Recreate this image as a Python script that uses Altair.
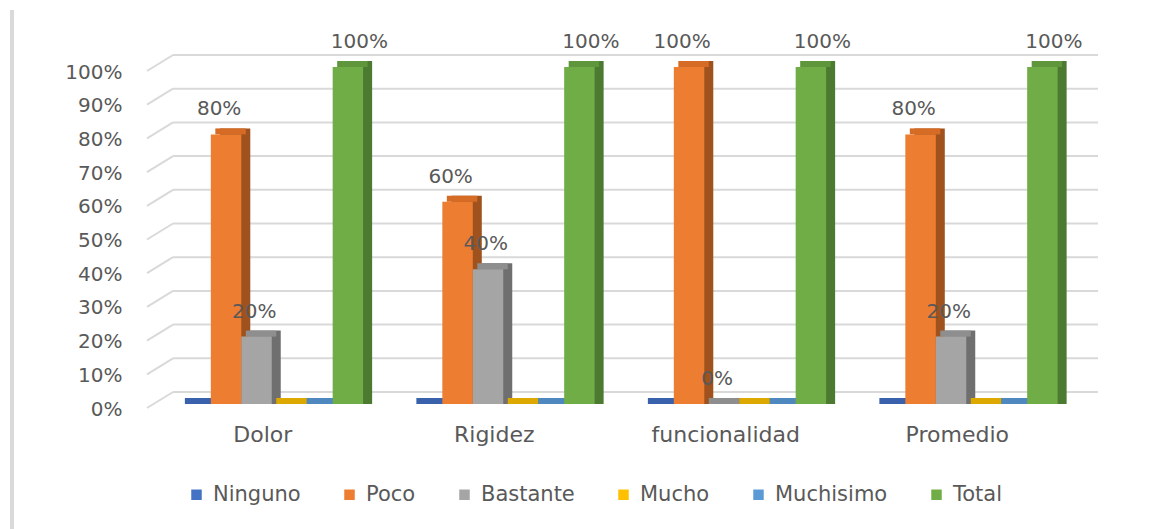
import altair as alt
import pandas as pd

categories = ["Dolor", "Rigidez", "funcionalidad", "Promedio"]
series = ["Ninguno", "Poco", "Bastante", "Mucho", "Muchisimo", "Total"]
ninguno = [0.0, 0.0, 0.0, 0.0]
poco = [0.8, 0.6, 1.0, 0.8]
bastante = [0.2, 0.4, 0.0, 0.2]
mucho = [0.0, 0.0, 0.0, 0.0]
muchisimo = [0.0, 0.0, 0.0, 0.0]
total = [1.0, 1.0, 1.0, 1.0]
labelled = ["Poco", "Bastante", "Total"]
ticks = [0.0, 0.1, 0.2, 0.3, 0.4, 0.5, 0.6, 0.7, 0.8, 0.9, 1.0]

front_colors = ["#4472C4", "#ED7D31", "#A5A5A5", "#FFC000", "#5B9BD5", "#70AD47"]
side_colors = ["#2F5597", "#A0521E", "#6F6F6F", "#C09000", "#41719C", "#4B7A30"]
top_colors = ["#3A62AC", "#D56B24", "#8E8E8E", "#DDA800", "#4E88BE", "#5F963B"]

values = [ninguno, poco, bastante, mucho, muchisimo, total]
rows = []
for s, vals in zip(series, values):
    for c, v in zip(categories, vals):
        rows.append({"category": c, "series": s, "value": v})
df = pd.DataFrame(rows)
tick_df = pd.DataFrame({"tick": ticks})

W, H = 926, 337
BAND = W / len(categories)
FONT = "DejaVu Sans"
TXT = "#595959"
GRID = "#D9D9D9"

yscale = alt.Scale(domain=[0, 1], nice=False)
xscale = alt.Scale(domain=categories, paddingInner=0, paddingOuter=0)
yaxis = alt.Axis(
    title=None, values=ticks, format=".0%", domain=False, ticks=False, grid=False,
    labelOverlap=False, labelFontSize=20, labelFont=FONT, labelColor=TXT,
    labelPadding=34, labelOffset=5,
)


def xoff(shift):
    return alt.XOffset(
        "series:N",
        sort=series,
        scale=alt.Scale(domain=series, range=[shift, BAND + shift], paddingInner=0, paddingOuter=0.8),
    )


def yq():
    return alt.Y("value:Q", scale=yscale, axis=yaxis)


xenc = alt.X(
    "category:N",
    sort=categories,
    scale=xscale,
    axis=alt.Axis(
        title=None, domain=False, ticks=False, grid=False, labelAngle=0, labelFontSize=22,
        labelFont=FONT, labelColor=TXT, labelPadding=20, labelOffset=-9,
    ),
)

grid_back = alt.Chart(tick_df).mark_rule(color=GRID, strokeWidth=2, yOffset=-12).encode(
    x=alt.value(17), x2=alt.value(942),
    y=alt.Y("tick:Q", scale=yscale, axis=yaxis),
)
grid_diag = alt.Chart(tick_df).mark_rule(color=GRID, strokeWidth=2, yOffset=4, y2Offset=-12).encode(
    x=alt.value(-9), x2=alt.value(17),
    y=alt.Y("tick:Q", scale=yscale, axis=yaxis), y2=alt.Y2("tick:Q"),
)

side = alt.Chart(df).mark_bar(yOffset=-6, y2Offset=0).encode(
    x=xenc, xOffset=xoff(9),
    y=yq(),
    y2=alt.datum(0),
    color=alt.Color("series:N", scale=alt.Scale(domain=series, range=side_colors), legend=None),
)
top = alt.Chart(df).mark_bar(yOffset=-6, y2Offset=0).encode(
    x=xenc, xOffset=xoff(4.5),
    y=yq(),
    y2=alt.Y2("value:Q"),
    color=alt.Color("series:N", scale=alt.Scale(domain=series, range=top_colors), legend=None),
)
front = alt.Chart(df).mark_bar().encode(
    x=xenc, xOffset=xoff(0),
    y=yq(),
    color=alt.Color(
        "series:N", sort=series,
        scale=alt.Scale(domain=series, range=front_colors),
        legend=alt.Legend(
            title=None, orient="none", legendX=30, legendY=417, direction="horizontal",
            columns=6, columnPadding=38, symbolType="square", symbolSize=110,
            symbolStrokeWidth=0, labelFontSize=21, labelFont=FONT, labelColor=TXT,
            labelOffset=6,
        ),
    ),
)
labels = alt.Chart(df).transform_filter(
    alt.FieldOneOfPredicate(field="series", oneOf=labelled)
).mark_text(dy=-25, align="center", baseline="middle", fontSize=20, font=FONT, color=TXT).encode(
    x=xenc, xOffset=xoff(0),
    y=yq(),
    text=alt.Text("value:Q", format=".0%"),
)
border = alt.Chart(tick_df).mark_rule(color=GRID, strokeWidth=3).encode(
    x=alt.value(-144), y=alt.value(-57), y2=alt.value(470),
)

chart = alt.layer(grid_back, grid_diag, side, top, front, labels, border).resolve_scale(
    xOffset="independent", color="independent"
).properties(
    width=W, height=H,
    background="white",
    autosize=alt.AutoSizeParams(type="none"),
    padding={"left": 156, "top": 67, "right": 77, "bottom": 125},
).configure_view(stroke=None).configure_axis(grid=False)

chart.save("out.html", embed_options={"renderer": "svg", "actions": False})
